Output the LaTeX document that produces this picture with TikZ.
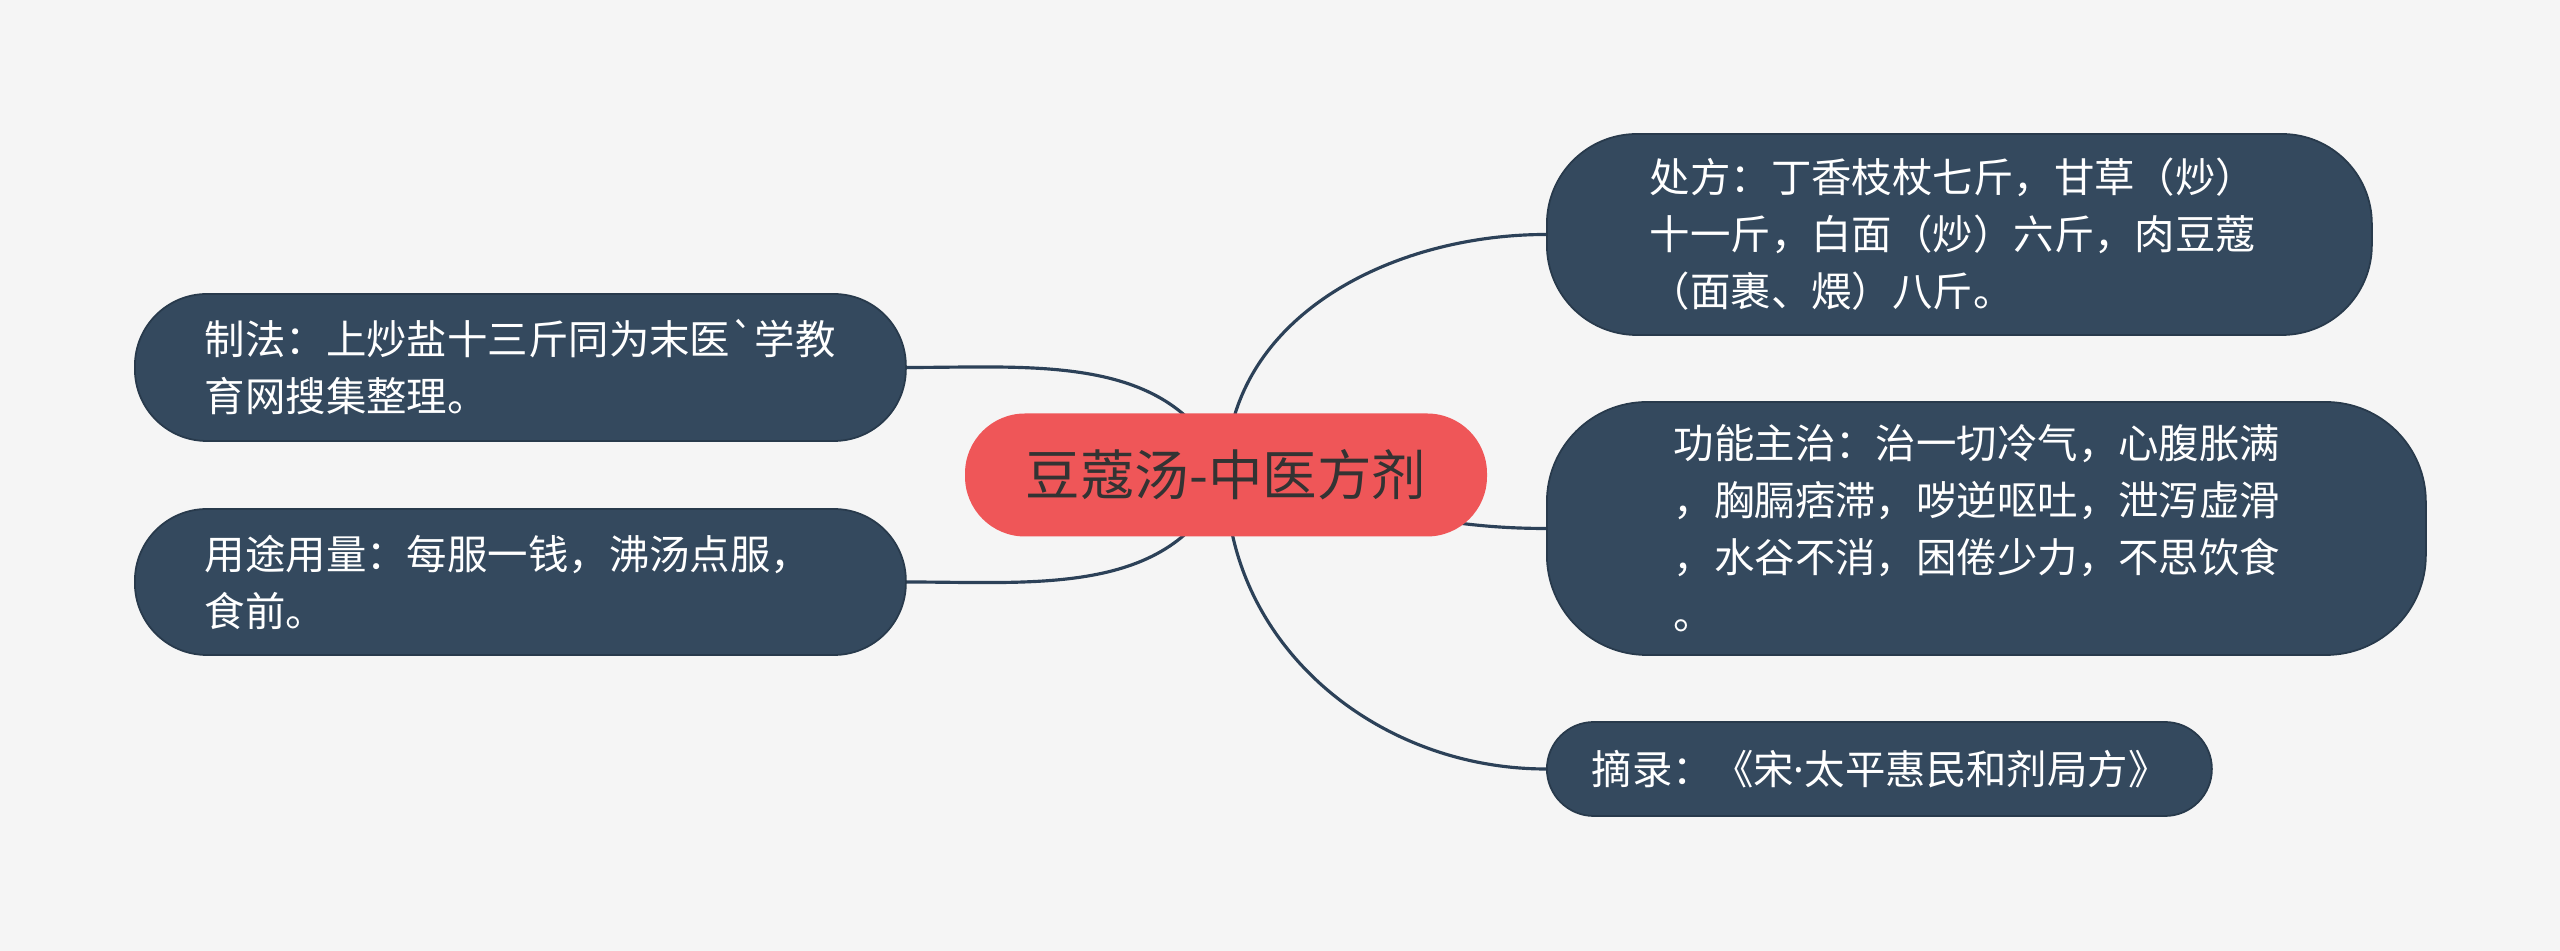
\documentclass[tikz,border=0pt]{standalone}
\usepackage{fontspec}
\newfontfamily\cjk{Noto Sans CJK SC}
\newfontfamily\latn{Noto Sans}
\usetikzlibrary{positioning}
\definecolor{bgpage}{RGB}{245,245,245}
\definecolor{hubred}{RGB}{239,86,88}
\definecolor{hubtext}{RGB}{51,51,51}
\definecolor{leafblue}{RGB}{52,73,94}
\definecolor{leafedge}{RGB}{40,58,76}
\definecolor{linkblue}{RGB}{44,65,88}
\pgfdeclarelayer{bg}
\pgfdeclarelayer{links}
\pgfsetlayers{bg,links,main}
\tikzset{
  hub/.style={fill=hubred, text=hubtext, rounded corners=0.6cm, inner sep=0pt,
              minimum width=5.22cm, minimum height=1.23cm,
              font=\cjk\fontsize{15.5}{18}\selectfont},
  leaf/.style={fill=leafblue, draw=leafedge, line width=0.5pt, text=white,
               anchor=west, align=left, inner ysep=0pt,
               font=\cjk\fontsize{11.5}{16.2}\selectfont},
  lnk/.style={linkblue, line width=0.9pt},
}

\begin{document}
\begin{tikzpicture}
  \begin{pgfonlayer}{bg}
    \fill[bgpage] (0,0) rectangle (25.6,-9.51);
  \end{pgfonlayer}
  \useasboundingbox (0,0) rectangle (25.6,-9.51);

  \node[hub] (root) at (12.26,-4.75) {豆蔻汤-中医方剂};

  % right side
  \node[leaf, text width=6.19cm, inner xsep=1.03cm, minimum height=2.01cm,
        rounded corners=0.9cm] (recipe) at (15.46,-2.345)
    {处方：丁香枝杖七斤，甘草（炒）\\十一斤，白面（炒）六斤，肉豆蔻\\（面裹、煨）八斤。};
  \node[leaf, text width=6.25cm, inner xsep=1.27cm, minimum height=2.53cm,
        rounded corners=1.0cm] (effect) at (15.46,-5.285)
    {功能主治：治一切冷气，心腹胀满\\，胸膈痞滞，哕逆呕吐，泄泻虚滑\\，水谷不消，困倦少力，不思饮食\\。};
  \node[leaf, text width=5.75cm, inner xsep=0.45cm, minimum height=0.94cm,
        rounded corners=0.47cm] (source) at (15.46,-7.69)
    {摘录：《宋{\latn ·}太平惠民和剂局方》};

  % left side
  \node[leaf, text width=6.31cm, inner xsep=0.70cm, minimum height=1.47cm,
        rounded corners=0.72cm] (method) at (1.34,-3.675)
    {制法：上炒盐十三斤同为末医\symbol{96}学教\\育网搜集整理。};
  \node[leaf, text width=6.31cm, inner xsep=0.70cm, minimum height=1.46cm,
        rounded corners=0.72cm] (usage) at (1.34,-5.82)
    {用途用量：每服一钱，沸汤点服，\\食前。};

  \begin{pgfonlayer}{links}
    \draw[lnk] (root.center) to[out=90,in=180] (recipe.west);
    \draw[lnk] (root.center) to[out=-10,in=180] (effect.west);
    \draw[lnk] (root.center) to[out=-90,in=180] (source.west);
    \draw[lnk] (root.center) to[out=112,in=0] (method.east);
    \draw[lnk] (root.center) to[out=-112,in=0] (usage.east);
  \end{pgfonlayer}
\end{tikzpicture}
\end{document}
